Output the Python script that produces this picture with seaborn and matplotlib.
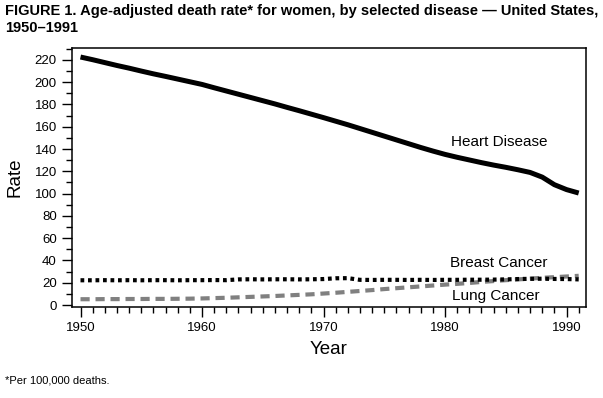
import pandas as pd
import seaborn as sns
import matplotlib.pyplot as plt
from matplotlib.ticker import MultipleLocator

# valores (taxa por 100.000, mulheres)
anos = list(range(1950, 1992))
cardiaca = [222.6, 220.2, 217.6, 215.0, 212.6, 210.0, 207.5, 205.2, 202.8, 200.4,
            198.0, 195.0, 192.1, 189.2, 186.3, 183.4, 180.5, 177.4, 174.4, 171.3,
            168.2, 165.0, 161.8, 158.4, 155.0, 151.6, 148.2, 144.8, 141.4, 138.2,
            135.2, 132.6, 130.2, 127.8, 125.6, 123.6, 121.4, 119.0, 114.8, 108.0,
            103.6, 100.5]
mama = [22.2, 22.2, 22.3, 22.2, 22.3, 22.2, 22.3, 22.3, 22.2, 22.3,
        22.3, 22.4, 22.3, 23.0, 23.1, 23.0, 23.1, 23.1, 23.0, 23.1,
        23.3, 24.0, 24.1, 22.6, 22.5, 22.6, 22.6, 22.5, 22.6, 22.5,
        22.6, 22.6, 22.7, 22.7, 22.8, 23.0, 23.3, 23.5, 23.6, 23.4,
        23.3, 23.0]
pulmao = [5.2, 5.2, 5.3, 5.3, 5.4, 5.4, 5.5, 5.5, 5.6, 5.7,
          5.9, 6.2, 6.5, 6.9, 7.3, 7.7, 8.1, 8.6, 9.1, 9.6,
          10.3, 11.0, 11.8, 12.6, 13.4, 14.3, 15.1, 15.9, 16.7, 17.5,
          18.3, 19.0, 19.8, 20.7, 21.5, 22.3, 23.0, 23.7, 24.4, 25.0,
          25.6, 26.2]

df = pd.DataFrame({'Ano': anos, 'Cardiaca': cardiaca, 'Mama': mama, 'Pulmao': pulmao})

sns.set_style('ticks')
plt.rcParams['font.family'] = ['Liberation Sans', 'DejaVu Sans']
for k in ['text.color', 'axes.labelcolor', 'xtick.color', 'ytick.color', 'axes.edgecolor']:
    plt.rcParams[k] = 'black'

fig = plt.figure(figsize=(6.03, 3.98), dpi=100)
ax = fig.add_axes([0.1194, 0.2286, 0.8524, 0.6508])

sns.lineplot(data=df, x='Ano', y='Cardiaca', color='black', linewidth=3.6,
             solid_capstyle='butt', ax=ax)
sns.lineplot(data=df, x='Ano', y='Pulmao', color='#808080', linewidth=3.0, ax=ax)
ax.lines[-1].set_dashes((2.2, 1.4))
sns.lineplot(data=df, x='Ano', y='Mama', color='black', linewidth=3.0, ax=ax)
ax.lines[-1].set_dashes((0.9, 0.9))

ax.set_xlim(1949.3, 1991.6)
ax.set_ylim(-1.8, 230.7)
ax.xaxis.set_major_locator(MultipleLocator(10))
ax.xaxis.set_minor_locator(MultipleLocator(1))
ax.yaxis.set_major_locator(MultipleLocator(20))
ax.yaxis.set_minor_locator(MultipleLocator(10))
ax.tick_params(which='major', length=7, width=1, labelsize=9.5, pad=4)
ax.tick_params(which='minor', length=4, width=1)
for s in ax.spines.values():
    s.set_linewidth(1.1)

ax.set_xlabel('Year', fontsize=13.5, labelpad=5)
ax.set_ylabel('Rate', fontsize=13.5, labelpad=8)

ax.text(1980.5, 146, 'Heart Disease', fontsize=11, va='center', ha='left')
ax.text(1980.4, 37.5, 'Breast Cancer', fontsize=11, va='center', ha='left')
ax.text(1980.6, 8.5, 'Lung Cancer', fontsize=11, va='center', ha='left')

fig.text(0.008, 0.99,
         'FIGURE 1. Age-adjusted death rate* for women, by selected disease \u2014 United States,\n1950\u20131991',
         fontsize=10.5, fontweight='bold', va='top', ha='left', linespacing=1.25)
fig.text(0.008, 0.045, '*Per 100,000 deaths.', fontsize=8, va='center', ha='left')

fig.savefig('out.png', dpi=100)
